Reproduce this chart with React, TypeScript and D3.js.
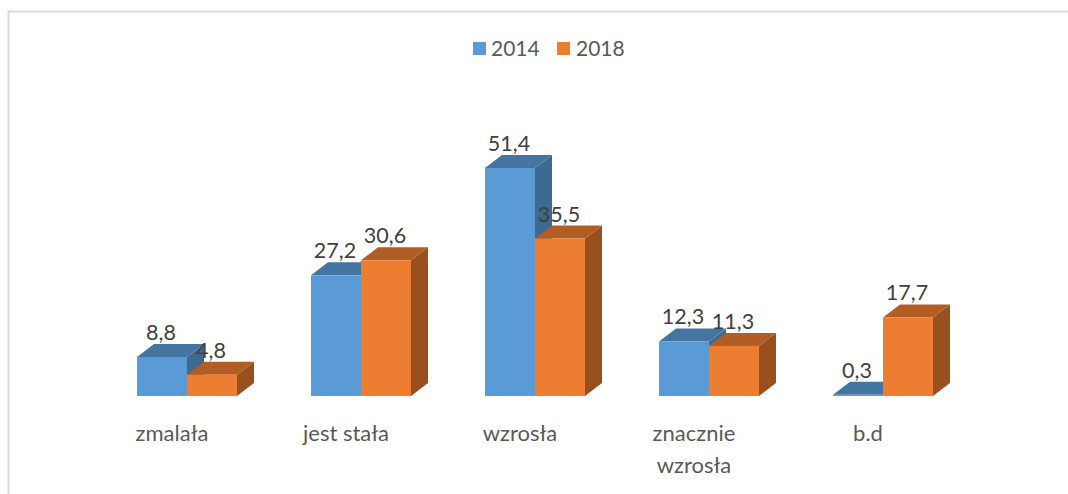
import React from "react";
import * as d3 from "d3";

const categories = ["zmalała", "jest stała", "wzrosła", "znacznie\nwzrosła", "b.d"];
const series2014 = [8.8, 27.2, 51.4, 12.3, 0.3];
const series2018 = [4.8, 30.6, 35.5, 11.3, 17.7];
const seriesNames = ["2014", "2018"];
const labels2014 = ["8,8", "27,2", "51,4", "12,3", "0,3"];
const labels2018 = ["4,8", "30,6", "35,5", "11,3", "17,7"];

const W = 1068, H = 494;
const BLUE = { front: "#5b9bd5", top: "#4475a1", side: "#3c6a92" };
const ORANGE = { front: "#ed7d31", top: "#b15d24", side: "#97501e" };
const TEXT = "#404040";
const AXIS = "#595959";
const FONT = "Lato, Carlito, sans-serif";
const DX = 17, DY = -13;

const y = d3.scaleLinear().domain([0, 51.4]).range([396, 168]);
const x = d3.scaleBand().domain(categories).range([100, 970]);
const barW = 50;

function Bar({ x0, v, c }: { x0: number; v: number; c: typeof BLUE }) {
  const t = y(v), b = y(0), x1 = x0 + barW;
  const poly = (pts: number[][]) => pts.map((p) => p.join(",")).join(" ");
  return (
    <g>
      <polygon points={poly([[x1, t], [x1 + DX, t + DY], [x1 + DX, b + DY], [x1, b]])} fill={c.side} />
      <polygon points={poly([[x0, t], [x0 + DX, t + DY], [x1 + DX, t + DY], [x1, t]])} fill={c.top} />
      <rect x={x0} y={t} width={barW} height={b - t} fill={c.front} />
    </g>
  );
}

export default function App() {
  const centers = categories.map((c) => x(c)! + x.bandwidth() / 2);
  return (
    <svg width={W} height={H} style={{ position: "absolute", left: 0, top: 0, background: "#fff" }} fontFamily={FONT}>
      <path d={`M8.5,${H} V11.5 H${W}`} fill="none" stroke="#d9d9d9" strokeWidth={2} />

      <rect x={473} y={42} width={13} height={13} fill={BLUE.front} />
      <text x={491} y={56} fontSize={21} fill={AXIS}>{seriesNames[0]}</text>
      <rect x={557} y={42} width={13} height={13} fill={ORANGE.front} />
      <text x={576} y={56} fontSize={21} fill={AXIS}>{seriesNames[1]}</text>

      {categories.map((cat, i) => {
        const cx = centers[i];
        return (
          <g key={cat}>
            <Bar x0={cx - barW} v={series2014[i]} c={BLUE} />
            <Bar x0={cx} v={series2018[i]} c={ORANGE} />
          </g>
        );
      })}
      {categories.map((cat, i) => {
        const cx = centers[i];
        return (
          <g key={cat} fontSize={21.5} fill={TEXT} textAnchor="middle">
            <text x={cx - 26} y={y(series2014[i]) - 17}>{labels2014[i]}</text>
            <text x={cx + 24} y={y(series2018[i]) - 17}>{labels2018[i]}</text>
          </g>
        );
      })}
      {categories.map((cat, i) => {
        const cx = centers[i];
        return (
          <text key={cat} x={cx - 15} y={441} fontSize={22} fill={AXIS} textAnchor="middle">
            {cat.split("\n").map((line, j) => (
              <tspan key={j} x={cx - 15} dy={j ? 32 : 0}>{line}</tspan>
            ))}
          </text>
        );
      })}
    </svg>
  );
}
